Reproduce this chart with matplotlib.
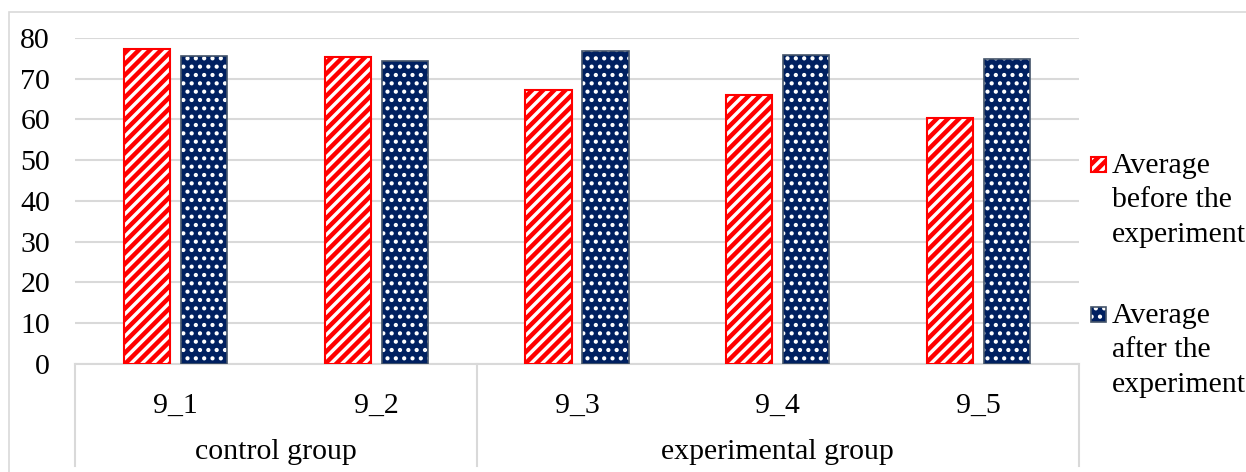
import matplotlib.pyplot as plt
import matplotlib.transforms as mtransforms
from matplotlib.patches import Rectangle
import numpy as np

classes = ["9_1", "9_2", "9_3", "9_4", "9_5"]
groups = ["control group", "experimental group"]
group_sizes = [2, 3]
before = [77.2, 75.4, 67.2, 66.0, 60.4]
after = [75.6, 74.3, 76.8, 75.8, 74.8]
labels = ["Average\nbefore the\nexperiment", "Average\nafter the\nexperiment"]

plt.rcParams['font.family'] = ['Liberation Serif', 'DejaVu Serif']
grid_col = "#d9d9d9"
navy = "#002060"
red_col = "#ff0000"
fs = 21.5

W, H = 1246, 472
fig = plt.figure(figsize=(W / 100, H / 100), dpi=100)
ax = fig.add_axes([75 / W, 1 - 363.6 / H, (1079 - 75) / W, (363.6 - 38) / H])

# outer chart frame
fig.patches.append(Rectangle((9 / W, -0.1), 1.2, 1 - 12 / H + 0.1, transform=fig.transFigure,
                             facecolor="none", edgecolor=grid_col, linewidth=1.2))


def red_style(p):
    if hasattr(p, "set_hatch_linewidth"):
        p.set_hatch_linewidth(3.2)


def blue_style(p):
    if hasattr(p, "set_hatch_linewidth"):
        p.set_hatch_linewidth(1.8)


x = np.arange(len(classes))
w = 0.23
off = 0.142

with plt.rc_context({'hatch.linewidth': 3.2}):
    red = ax.bar(x - off, before, w, facecolor="white", edgecolor=red_col,
                 hatch="///", linewidth=1.5, zorder=3)
for b in red:
    red_style(b)

with plt.rc_context({'hatch.linewidth': 1.8}):
    blue = ax.bar(x + off, after, w, facecolor=navy, edgecolor="white",
                  hatch="..", linewidth=0, zorder=3)
for b in blue:
    blue_style(b)
ax.bar(x + off, after, w, facecolor="none", edgecolor="#44546a",
       linewidth=1.2, zorder=4)

ax.set_ylim(0, 80)
ax.set_xlim(-0.5, len(classes) - 0.5)
ax.set_yticks(range(0, 81, 10))
ax.yaxis.grid(True, color=grid_col, linewidth=1.5)
ax.set_axisbelow(True)
for s in ["top", "right", "left"]:
    ax.spines[s].set_visible(False)
ax.spines["bottom"].set_color(grid_col)
ax.spines["bottom"].set_linewidth(1.5)
ax.tick_params(axis="y", length=0, pad=18, labelsize=fs)
ax.set_xticks(x, classes)
ax.tick_params(axis="x", length=0, pad=21, labelsize=fs)

# two-level category axis
trans = mtransforms.blended_transform_factory(ax.transData, ax.transAxes)
bounds = np.concatenate([[0], np.cumsum(group_sizes)]) - 0.5
for b in bounds:
    ax.plot([b, b], [0, -0.3145], transform=trans, color=grid_col,
            linewidth=1.5, clip_on=False)
for i, g in enumerate(groups):
    ax.text((bounds[i] + bounds[i + 1]) / 2, -0.2715, g, transform=trans,
            ha="center", va="center", fontsize=fs)

# legend, drawn by hand so the key sits beside the first line
leg_top = [157, 307]
for i, lab in enumerate(labels):
    y0 = 1 - (leg_top[i] + 15) / H
    if i == 0:
        key = Rectangle((1091 / W, y0), 15 / W, 15 / H, transform=fig.transFigure,
                        facecolor="white", edgecolor=red_col, hatch="///", linewidth=1.5)
        red_style(key)
        fig.patches.append(key)
    else:
        key = Rectangle((1091 / W, y0), 15 / W, 15 / H, transform=fig.transFigure,
                        facecolor=navy, edgecolor="white", hatch="..", linewidth=0)
        blue_style(key)
        fig.patches.append(key)
        fig.patches.append(Rectangle((1091 / W, y0), 15 / W, 15 / H, transform=fig.transFigure,
                                     facecolor="none", edgecolor="#44546a", linewidth=1.2))
    fig.text(1112 / W, 1 - (leg_top[i] - 4) / H, lab, ha="left", va="top",
             fontsize=fs, linespacing=1.42)

fig.savefig("out.png", dpi=100)
